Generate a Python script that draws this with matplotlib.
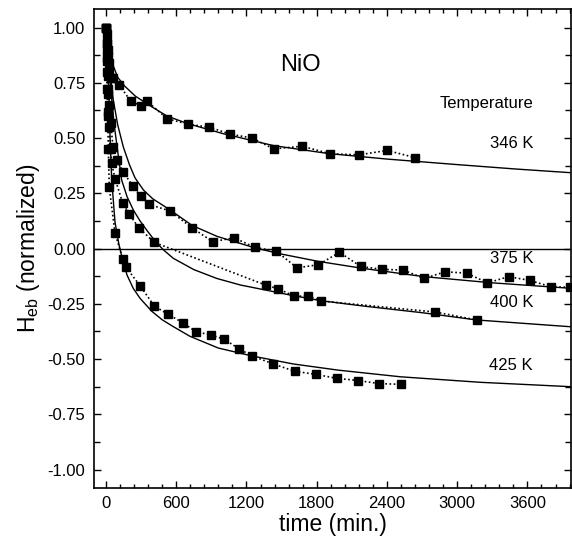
import matplotlib
matplotlib.use("Agg")
import matplotlib.pyplot as plt
from matplotlib.ticker import MultipleLocator, FormatStrFormatter

plt.rcParams['font.family'] = ['Liberation Sans', 'DejaVu Sans']
plt.rcParams['mathtext.fontset'] = 'custom'
plt.rcParams['mathtext.rm'] = 'Liberation Sans'

# ---- measured data (time in min, normalized Heb) ----
t_346 = [0, 5, 10, 15, 20, 25, 30, 40, 60, 114, 211, 299, 348, 524, 701, 883, 1060, 1248, 1433, 1675, 1917, 2159, 2402, 2638]
h_346 = [1.0, 0.97, 0.93, 0.90, 0.87, 0.84, 0.80, 0.77, 0.77, 0.74, 0.667, 0.645, 0.668, 0.587, 0.563, 0.549, 0.518, 0.50, 0.451, 0.463, 0.429, 0.424, 0.444, 0.412]

t_375 = [0, 5, 10, 15, 20, 30, 40, 60, 90, 148, 228, 296, 370, 547, 735, 912, 1094, 1273, 1453, 1632, 1815, 1994, 2177, 2359, 2538, 2718, 2897, 3080, 3259, 3439, 3621, 3801, 3966]
h_375 = [1.0, 0.93, 0.86, 0.78, 0.72, 0.65, 0.57, 0.46, 0.40, 0.347, 0.283, 0.237, 0.20, 0.17, 0.094, 0.031, 0.049, 0.005, -0.011, -0.087, -0.073, -0.017, -0.081, -0.094, -0.097, -0.135, -0.105, -0.111, -0.155, -0.127, -0.144, -0.173, -0.175]

t_400 = [0, 5, 10, 15, 20, 28, 40, 48, 77, 142, 199, 282, 413, 1368, 1473, 1607, 1729, 1838, 2812, 3168]
h_400 = [1.0, 0.90, 0.80, 0.70, 0.62, 0.55, 0.45, 0.385, 0.317, 0.207, 0.155, 0.093, 0.028, -0.166, -0.182, -0.215, -0.215, -0.237, -0.287, -0.323]

t_425 = [0, 5, 10, 15, 20, 28, 77, 142, 168, 291, 413, 533, 655, 769, 897, 1011, 1137, 1250, 1430, 1612, 1792, 1972, 2154, 2336, 2516]
h_425 = [1.0, 0.85, 0.72, 0.60, 0.45, 0.277, 0.071, -0.046, -0.082, -0.168, -0.26, -0.298, -0.335, -0.376, -0.391, -0.41, -0.454, -0.486, -0.522, -0.555, -0.569, -0.587, -0.597, -0.611, -0.614]

# ---- fit curves ----
ft_346 = [40, 60, 100, 160, 250, 380, 520, 700, 1000, 1430, 1900, 2400, 3000, 3500, 3980]
fh_346 = [0.90, 0.83, 0.775, 0.735, 0.69, 0.645, 0.60, 0.565, 0.52, 0.466, 0.43, 0.405, 0.38, 0.36, 0.343]

ft_375 = [35, 60, 100, 148, 200, 248, 320, 400, 547, 735, 950, 1273, 1500, 1815, 2200, 2718, 3300, 3980]
fh_375 = [0.80, 0.68, 0.56, 0.46, 0.38, 0.32, 0.265, 0.225, 0.175, 0.105, 0.055, 0.003, -0.025, -0.058, -0.09, -0.127, -0.155, -0.18]

ft_400 = [30, 45, 70, 100, 134, 180, 233, 291, 360, 433, 500, 575, 750, 946, 1150, 1368, 1600, 1838, 2200, 2700, 3168, 3980]
fh_400 = [0.80, 0.70, 0.56, 0.44, 0.31, 0.235, 0.175, 0.125, 0.075, 0.025, -0.01, -0.044, -0.095, -0.135, -0.165, -0.188, -0.213, -0.236, -0.26, -0.29, -0.323, -0.354]

ft_425 = [20, 35, 49, 77, 110, 142, 180, 233, 291, 390, 480, 575, 718, 960, 1250, 1600, 1986, 2516, 3200, 3980]
fh_425 = [0.80, 0.50, 0.31, 0.12, 0.02, -0.05, -0.12, -0.18, -0.225, -0.283, -0.322, -0.353, -0.397, -0.45, -0.486, -0.522, -0.55, -0.58, -0.605, -0.625]

labels = ["346 K", "375 K", "400 K", "425 K"]
label_y = [0.477, -0.043, -0.242, -0.527]

fig = plt.figure(figsize=(5.72, 5.41), dpi=100)
ax = fig.add_axes([0.1638, 0.098, 0.835, 0.885])

for ft, fh in [(ft_346, fh_346), (ft_375, fh_375), (ft_400, fh_400), (ft_425, fh_425)]:
    ax.plot(ft, fh, color='black', lw=1.0, zorder=2)

for t, h in [(t_346, h_346), (t_375, h_375), (t_400, h_400), (t_425, h_425)]:
    ax.plot(t, h, color='black', lw=1.2, ls=(0, (1, 1.5)), marker='s', ms=6,
            markerfacecolor='black', markeredgecolor='black', zorder=3)

ax.axhline(0, color='black', lw=1.0, zorder=1)

ax.set_xlim(-105, 3975)
ax.set_ylim(-1.083, 1.083)
ax.xaxis.set_major_locator(MultipleLocator(600))
ax.xaxis.set_minor_locator(MultipleLocator(120))
ax.yaxis.set_major_locator(MultipleLocator(0.25))
ax.yaxis.set_minor_locator(MultipleLocator(0.125))
ax.yaxis.set_major_formatter(FormatStrFormatter('%.2f'))
ax.tick_params(which='both', direction='in', top=True, right=True, labelsize=12, width=1.0)
ax.tick_params(which='major', length=5)
ax.tick_params(which='minor', length=3)
ax.tick_params(axis='y', which='minor', length=4)
ax.tick_params(axis='y', pad=6)
ax.tick_params(axis='x', pad=6)
for s in ax.spines.values():
    s.set_linewidth(1.2)

ax.set_xlabel('time (min.)', fontsize=16.5, labelpad=1)
ax.set_ylabel(r'H$_\mathregular{eb}$ (normalized)', fontsize=16.5, labelpad=4)

ax.text(1660, 0.804, 'NiO', fontsize=17, ha='center', va='baseline')
ax.text(3250, 0.658, 'Temperature', fontsize=12, ha='center', va='center')
for lab, yy in zip(labels, label_y):
    ax.text(3462, yy, lab, fontsize=12, ha='center', va='center')

fig.savefig('out.png', dpi=100)
